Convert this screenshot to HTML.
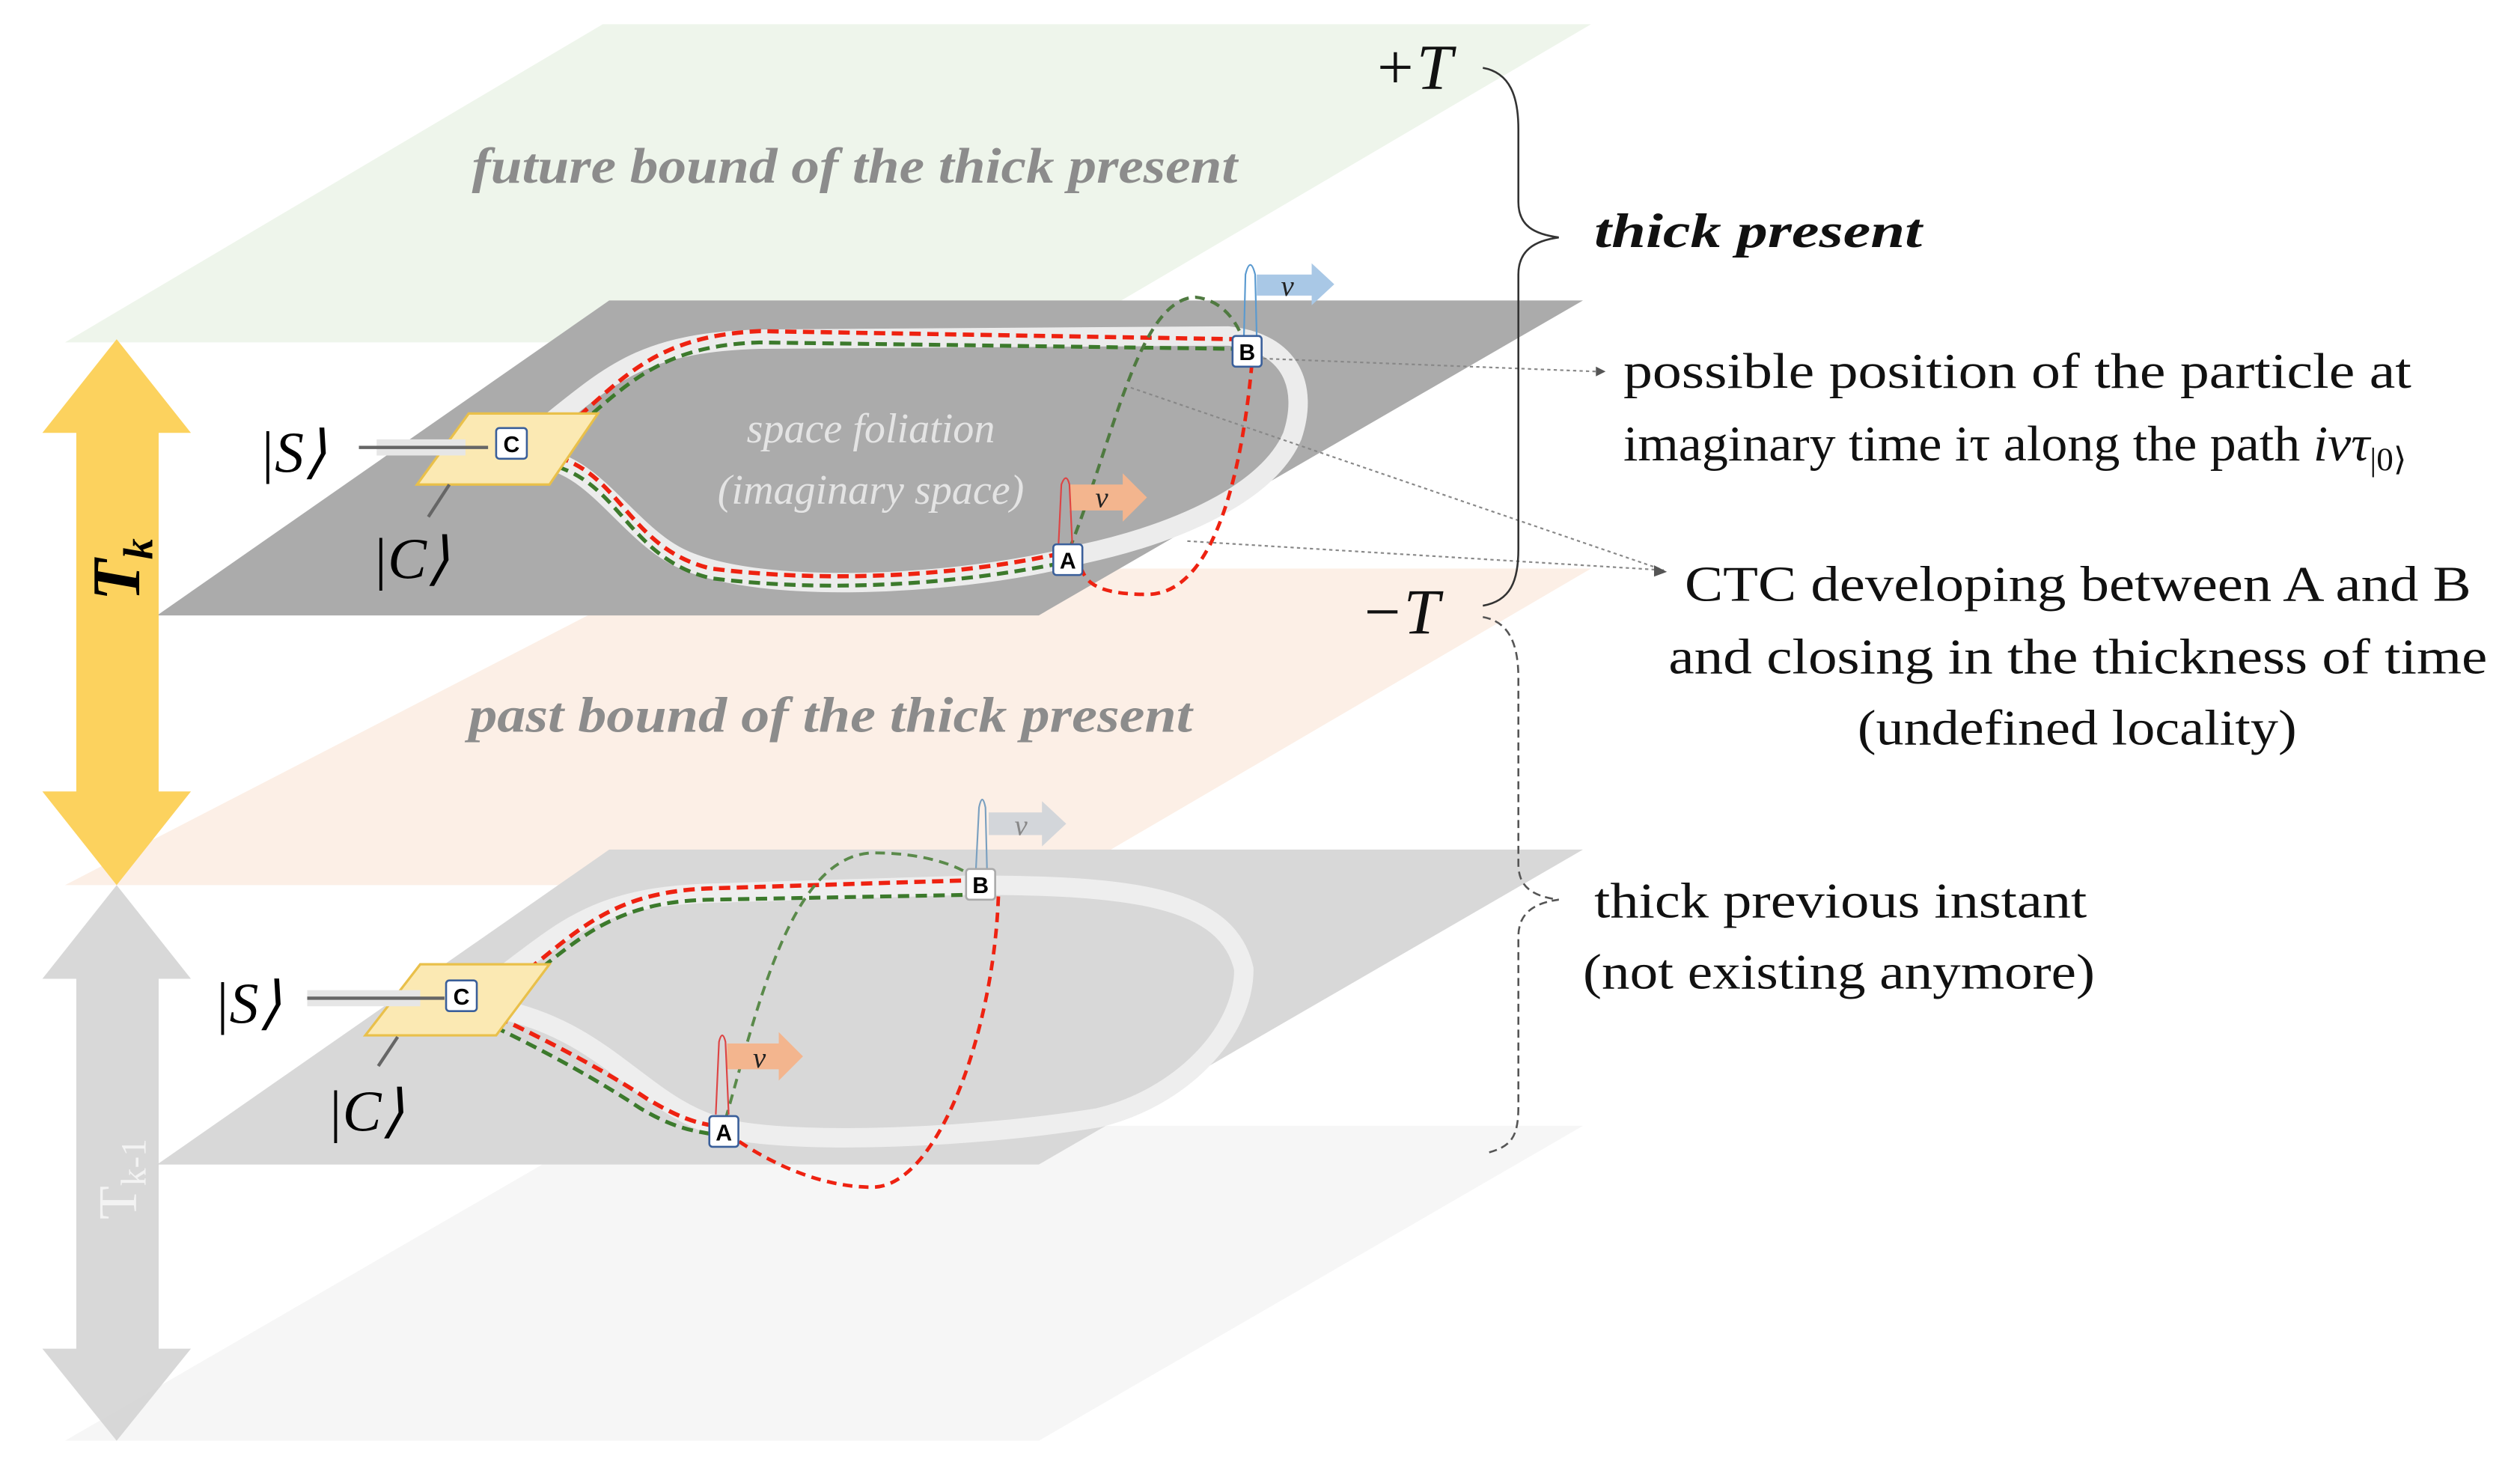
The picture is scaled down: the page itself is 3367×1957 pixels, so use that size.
<!DOCTYPE html>
<html><head><meta charset="utf-8"><style>html,body{margin:0;padding:0;background:#fff}svg{display:block}</style></head>
<body>
<svg width="3367" height="1957" viewBox="0 0 1560 907" xmlns="http://www.w3.org/2000/svg">
<rect width="1560" height="907" fill="#fff"/>
<polygon points="373,15 985,15 650,212 40,212" fill="#eef5eb"/>
<polygon points="420,352 985,352 650,548 40,548" fill="#fcefe6"/>
<polygon points="377,186 980,186 643,381 97,381" fill="#ababab"/>
<polygon points="377,697 980,697 643,892 40,892" fill="#f6f6f6"/>
<polygon points="377,526 980,526 643,721 97,721" fill="#d8d8d8"/>

<polygon points="72,210 118,268 98,268 98,490 118,490 72,548 26,490 47,490 47,268 26,268" fill="#fcd25e"/>
<polygon points="72,548 118,606 98,606 98,835 118,835 72,892 26,835 47,835 47,606 26,606" fill="#d4d4d4" opacity="0.9"/>
<text transform="translate(86,372) rotate(-90)" font-family="Liberation Serif,serif" font-weight="bold" font-style="italic" font-size="42" fill="#000">T<tspan font-size="26" dy="8">k</tspan></text>
<text transform="translate(84,755) rotate(-90)" font-family="Liberation Serif,serif" font-size="34" fill="#f3f3f3">T<tspan font-size="22" dy="6">k-1</tspan></text>

<text x="292" y="113" font-family="Liberation Serif,serif" font-style="italic" font-weight="bold" font-size="31" fill="#8c8c8c" textLength="474" lengthAdjust="spacingAndGlyphs">future bound of the thick present</text>
<text x="290" y="453" font-family="Liberation Serif,serif" font-style="italic" font-weight="bold" font-size="31" fill="#8c8c8c" textLength="448" lengthAdjust="spacingAndGlyphs">past bound of the thick present</text>
<text x="539" y="274" text-anchor="middle" font-family="Liberation Serif,serif" font-style="italic" font-size="26" fill="#e4e4e4">space foliation</text>
<text x="539" y="312" text-anchor="middle" font-family="Liberation Serif,serif" font-style="italic" font-size="26" fill="#e4e4e4">(imaginary space)</text>

<path d="M340,262 C380,230 400,212 470,210 L760,208 C800,212 810,240 800,270 C785,305 730,330 670,343 C600,362 470,370 420,345 C390,330 370,292 340,285" fill="none" stroke="#ececec" stroke-width="12" stroke-linejoin="round"/>
<path d="M350,265 C385,235 405,208 470,205 L765,210" fill="none" stroke="#e21" stroke-width="2.6" stroke-dasharray="7,4"/>
<path d="M350,270 C385,242 405,214 470,212 L765,216" fill="none" stroke="#3c7a2c" stroke-width="2.4" stroke-dasharray="7,4"/>
<path d="M345,283 C385,295 390,340 440,352 C520,362 600,355 655,343" fill="none" stroke="#e21" stroke-width="2.6" stroke-dasharray="7,4"/>
<path d="M345,289 C385,302 390,346 440,358 C520,368 600,360 655,349" fill="none" stroke="#3c7a2c" stroke-width="2.4" stroke-dasharray="7,4"/>
<path d="M662,340 C690,270 705,185 740,184 C760,186 768,205 770,212" fill="none" stroke="#4f7a40" stroke-width="2" stroke-dasharray="6,4"/>
<path d="M775,225 C770,280 755,368 710,368 C670,368 672,355 668,350" fill="none" stroke="#e21" stroke-width="2.2" stroke-dasharray="6,4"/>
<polygon points="778,170 812,170 812,163 826,176 812,189 812,183 778,183" fill="#a9c8e6"/>
<text x="793" y="183" font-family="Liberation Serif,serif" font-style="italic" font-size="18" fill="#222">v</text>
<path d="M770,210 L771,170 Q774,158 777,170 L778,210" fill="none" stroke="#5a9ad0" stroke-width="1"/>
<polygon points="662,300 695,300 695,293 710,308 695,323 695,316 662,316" fill="#f3b58e"/>
<text x="678" y="314" font-family="Liberation Serif,serif" font-style="italic" font-size="18" fill="#222">v</text>
<path d="M655,342 L657,300 Q660,292 662,300 L664,342" fill="none" stroke="#d44" stroke-width="1"/>
<polygon points="290,256 370,256 340,300 258,300" fill="#fbe9b3" stroke="#e9c04a" stroke-width="1.5"/>
<rect x="233" y="272" width="55" height="10" fill="#e6e6e6"/>
<line x1="222" y1="277" x2="302" y2="277" stroke="#666" stroke-width="2"/>
<line x1="265" y1="320" x2="278" y2="300" stroke="#666" stroke-width="2"/>
<rect x="307" y="265" width="19" height="19" rx="2" fill="#fff" stroke="#3a5f9a" stroke-width="1.2"/>
<text x="316.5" y="280" text-anchor="middle" font-family="Liberation Sans,sans-serif" font-weight="bold" font-size="14">C</text>
<rect x="763" y="208" width="18" height="19" rx="2" fill="#fff" stroke="#3a5f9a" stroke-width="1.2"/>
<text x="772" y="223" text-anchor="middle" font-family="Liberation Sans,sans-serif" font-weight="bold" font-size="14">B</text>
<rect x="652" y="337" width="18" height="19" rx="2" fill="#fff" stroke="#3a5f9a" stroke-width="1.2"/>
<text x="661" y="352" text-anchor="middle" font-family="Liberation Sans,sans-serif" font-weight="bold" font-size="14">A</text>
<text x="160" y="292" font-family="Liberation Serif,serif" font-style="italic" font-size="36">|S⟩</text>
<text x="230" y="358" font-family="Liberation Serif,serif" font-style="italic" font-size="36">|C⟩</text>

<path d="M310,605 C350,575 370,555 440,553 L600,548 C700,548 760,555 770,600 C770,640 730,680 680,692 C600,705 500,708 455,700 C400,690 380,640 310,625" fill="none" stroke="#eeeeee" stroke-width="12" stroke-linejoin="round"/>
<path d="M318,607 C355,580 375,552 440,550 L600,545" fill="none" stroke="#e21" stroke-width="2.6" stroke-dasharray="7,4"/>
<path d="M318,612 C355,586 375,558 440,557 L600,554" fill="none" stroke="#3c7a2c" stroke-width="2.4" stroke-dasharray="7,4"/>
<path d="M298,625 C330,640 370,660 400,680 C420,692 430,695 442,697" fill="none" stroke="#e21" stroke-width="2.6" stroke-dasharray="7,4"/>
<path d="M296,631 C328,646 366,666 396,686 C416,698 428,700 440,702" fill="none" stroke="#3c7a2c" stroke-width="2.4" stroke-dasharray="7,4"/>
<path d="M449,693 C470,620 490,530 540,528 C580,528 600,540 605,545" fill="none" stroke="#5a8a4a" stroke-width="1.8" stroke-dasharray="6,4"/>
<path d="M618,555 C615,640 580,735 540,735 C500,735 465,712 455,705" fill="none" stroke="#e21" stroke-width="2.2" stroke-dasharray="6,4"/>
<polygon points="612,503 645,503 645,496 660,510 645,524 645,517 612,517" fill="#d3d6da"/>
<text x="628" y="517" font-family="Liberation Serif,serif" font-style="italic" font-size="18" fill="#888">v</text>
<path d="M604,540 L606,500 Q608,490 610,500 L611,540" fill="none" stroke="#7aa0c0" stroke-width="1"/>
<polygon points="450,646 482,646 482,639 497,654 482,669 482,662 450,662" fill="#f3b58e"/>
<text x="466" y="661" font-family="Liberation Serif,serif" font-style="italic" font-size="18" fill="#222">v</text>
<path d="M443,690 L445,645 Q447,637 449,645 L451,690" fill="none" stroke="#d44" stroke-width="1"/>
<polygon points="260,597 340,597 307,641 226,641" fill="#fbe9b3" stroke="#e9c04a" stroke-width="1.5"/>
<rect x="190" y="613" width="70" height="10" fill="#e6e6e6"/>
<line x1="190" y1="618" x2="275" y2="618" stroke="#666" stroke-width="2"/>
<line x1="234" y1="660" x2="246" y2="642" stroke="#666" stroke-width="2"/>
<rect x="276" y="607" width="19" height="19" rx="2" fill="#fff" stroke="#3a5f9a" stroke-width="1.2"/>
<text x="285.5" y="622" text-anchor="middle" font-family="Liberation Sans,sans-serif" font-weight="bold" font-size="14">C</text>
<rect x="598" y="538" width="18" height="19" rx="2" fill="#fff" stroke="#aaa" stroke-width="1.2"/>
<text x="607" y="553" text-anchor="middle" font-family="Liberation Sans,sans-serif" font-weight="bold" font-size="14">B</text>
<rect x="439" y="691" width="18" height="19" rx="2" fill="#fff" stroke="#3a5f9a" stroke-width="1.2"/>
<text x="448" y="706" text-anchor="middle" font-family="Liberation Sans,sans-serif" font-weight="bold" font-size="14">A</text>
<text x="132" y="633" font-family="Liberation Serif,serif" font-style="italic" font-size="36">|S⟩</text>
<text x="202" y="700" font-family="Liberation Serif,serif" font-style="italic" font-size="36">|C⟩</text>

<g stroke="#888" stroke-width="1" stroke-dasharray="2,2" fill="none">
<line x1="782" y1="222" x2="988" y2="230"/>
<line x1="700" y1="240" x2="1030" y2="353"/>
<line x1="735" y1="335" x2="1030" y2="353"/>
</g>
<polygon points="988,227 994,230 988,233" fill="#555"/>
<polygon points="1024,350 1032,354 1024,357" fill="#555"/>

<path d="M918,42 C935,45 940,60 940,80 L940,125 C940,140 950,145 965,147 C950,149 940,155 940,170 L940,340 C940,360 935,372 918,375" fill="none" stroke="#333" stroke-width="1.2"/>
<path d="M918,382 C935,385 940,400 940,420 L940,535 C940,550 950,555 965,557 C950,559 940,565 940,580 L940,685 C940,705 935,710 920,714" fill="none" stroke="#555" stroke-width="1.2" stroke-dasharray="5,3"/>

<g font-family="Liberation Serif,serif" fill="#111">
<text x="850" y="55" font-size="40" font-style="italic">+T</text>
<text x="842" y="392" font-size="40" font-style="italic">−T</text>
<text x="987" y="153" font-size="30" font-weight="bold" font-style="italic" textLength="203" lengthAdjust="spacingAndGlyphs">thick present</text>
<text x="1005" y="240" font-size="31" textLength="488" lengthAdjust="spacingAndGlyphs">possible position of  the particle at</text>
<text x="1005" y="285" font-size="31" textLength="485" lengthAdjust="spacingAndGlyphs">imaginary time iτ along the path <tspan font-style="italic">ivτ</tspan><tspan font-size="20" dy="6">|0⟩</tspan></text>
<text x="1043" y="372" font-size="31" textLength="487" lengthAdjust="spacingAndGlyphs">CTC developing between A and B</text>
<text x="1033" y="417" font-size="31" textLength="507" lengthAdjust="spacingAndGlyphs">and closing in the thickness of  time</text>
<text x="1150" y="461" font-size="31" textLength="272" lengthAdjust="spacingAndGlyphs">(undefined locality)</text>
<text x="987" y="568" font-size="31" textLength="305" lengthAdjust="spacingAndGlyphs">thick previous instant</text>
<text x="980" y="612" font-size="31" textLength="317" lengthAdjust="spacingAndGlyphs">(not existing anymore)</text>
</g>
</svg>
</body></html>
